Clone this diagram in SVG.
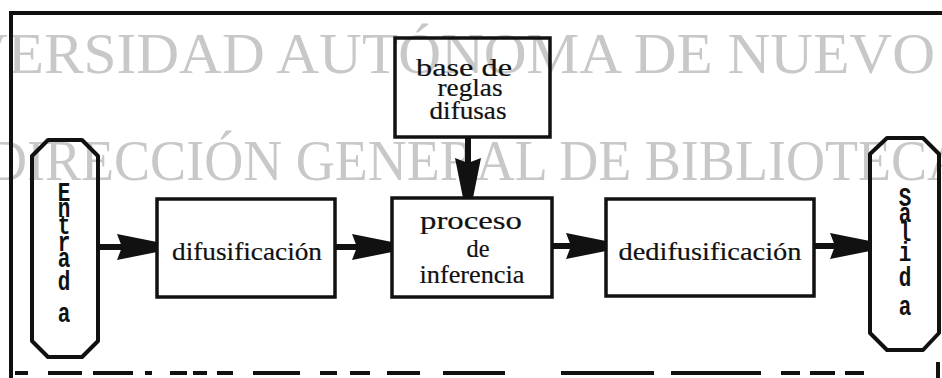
<svg xmlns="http://www.w3.org/2000/svg" width="942" height="378" viewBox="0 0 942 378">
<style>
.wm{font-family:"Liberation Serif","Times New Roman",serif;fill:#c8c8c8;}
.box{fill:none;stroke:#111;stroke-width:3.5;stroke-linejoin:miter;}
.term{fill:none;stroke:#111;stroke-width:4;stroke-linejoin:round;}
.lbl{font-family:"Liberation Serif","Times New Roman",serif;font-size:25px;fill:#111;stroke:#111;stroke-width:0.2;text-anchor:middle;}
.vl{font-family:"Liberation Mono","Courier New",monospace;font-weight:bold;font-size:21px;fill:#111;text-anchor:middle;}
.frame{fill:none;stroke:#111;stroke-width:4;}
.conn{fill:none;stroke:#111;stroke-width:6;}
</style>
<defs>
<marker id="arr" viewBox="-42 -14 44 28" refX="0" refY="0" markerWidth="44" markerHeight="28" orient="auto" markerUnits="userSpaceOnUse">
<path d="M-40,-13 L-30,-11 L0,-5 L0,5 L-30,11 L-40,13 L-35,0 Z" fill="#111"/>
</marker>
</defs>
<rect width="942" height="378" fill="#ffffff"/>
<g id="watermark">
<text class="wm" x="-35" y="73" font-size="58" textLength="970" lengthAdjust="spacingAndGlyphs">VERSIDAD AUTÓNOMA DE NUEVO</text>
<text class="wm" x="-12" y="180" font-size="57" textLength="978" lengthAdjust="spacingAndGlyphs">DIRECCIÓN GENERAL DE BIBLIOTECA</text>
</g>
<g id="frame">
<path class="frame" d="M11,378 V13 H942"/>
<path class="frame" stroke-width="3" d="M15,373 H28 M48,373 H82 M93,373 H133 M145,373 H152 M170,373 H187 M193,373 H207 M217,373 H233 M253,373 H300 M320,373 H337 M350,373 H370 M387,373 H420 M443,373 H505 M561,373 H654 M671,373 H761 M781,373 H800 M810,373 H835 M845,373 H864 M938,362 V378"/>
</g>
<g id="connectors">
<path class="conn" d="M98,247 H157" marker-end="url(#arr)"/>
<path class="conn" d="M335,247 H392" marker-end="url(#arr)"/>
<path class="conn" d="M552,246 H606" marker-end="url(#arr)"/>
<path class="conn" d="M814,246 H870" marker-end="url(#arr)"/>
<path class="conn" stroke-width="5" d="M468,137 V198" marker-end="url(#arr)"/>
</g>
<g id="entrada">
<path class="term" d="M48,140 H82 L98,156 V341 L82,357 H48 L32,341 V156 Z"/>
<text class="vl" transform="translate(64,201) scale(1,1.35)">E</text>
<text class="vl" transform="translate(64,217) scale(1,1.35)">n</text>
<text class="vl" transform="translate(64,234) scale(1,1.35)">t</text>
<text class="vl" transform="translate(64,251) scale(1,1.35)">r</text>
<text class="vl" transform="translate(64,267) scale(1,1.35)">a</text>
<text class="vl" transform="translate(64,290) scale(1,1.35)">d</text>
<text class="vl" transform="translate(64,322) scale(1,1.35)">a</text>
</g>
<g id="difusificacion">
<rect class="box" x="157" y="199" width="178" height="98"/>
<text class="lbl" x="247" y="260" textLength="150" lengthAdjust="spacingAndGlyphs">difusificación</text>
</g>
<g id="base">
<rect class="box" x="395" y="38" width="155" height="99"/>
<text class="lbl" x="464" y="76" textLength="96" lengthAdjust="spacingAndGlyphs">base de</text>
<text class="lbl" x="470" y="96" textLength="65" lengthAdjust="spacingAndGlyphs">reglas</text>
<text class="lbl" x="468" y="119" textLength="77" lengthAdjust="spacingAndGlyphs">difusas</text>
</g>
<g id="proceso">
<rect class="box" x="392" y="198" width="160" height="99"/>
<text class="lbl" x="471" y="229" textLength="102" lengthAdjust="spacingAndGlyphs">proceso</text>
<text class="lbl" x="478" y="257" textLength="23" lengthAdjust="spacingAndGlyphs">de</text>
<text class="lbl" x="472" y="283" textLength="105" lengthAdjust="spacingAndGlyphs">inferencia</text>
</g>
<g id="dedifusificacion">
<rect class="box" x="606" y="199" width="208" height="97"/>
<text class="lbl" x="710" y="260" textLength="183" lengthAdjust="spacingAndGlyphs">dedifusificación</text>
</g>
<g id="salida">
<path class="term" d="M887,138 H923 L939,154 V333 L923,350 H887 L870,333 V154 Z"/>
<text class="vl" transform="translate(905,206) scale(1,1.35)">S</text>
<text class="vl" transform="translate(905,222) scale(1,1.35)">a</text>
<text class="vl" transform="translate(905,241) scale(1,1.35)">l</text>
<text class="vl" transform="translate(905,261) scale(1,1.35)">i</text>
<text class="vl" transform="translate(905,286) scale(1,1.35)">d</text>
<text class="vl" transform="translate(905,315) scale(1,1.35)">a</text>
</g>
</svg>
